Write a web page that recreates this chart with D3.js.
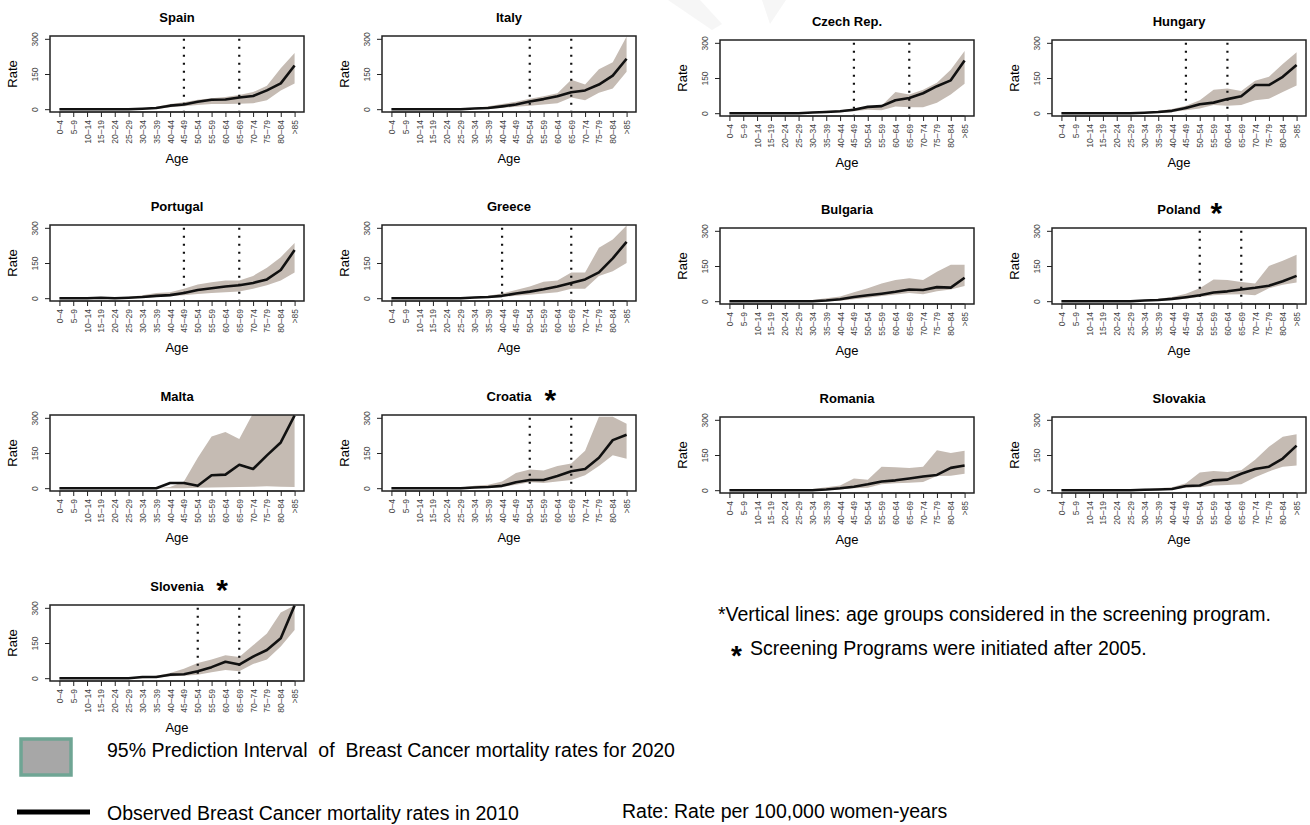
<html>
<head>
<meta charset="UTF-8">
<title>Breast cancer mortality by age</title>
<style>
body { margin: 0; background: #ffffff; }
text { font-family: "Liberation Sans", Arial, Helvetica, sans-serif; }
</style>
</head>
<body>
<div id="vis"></div>
<script src="https://d3js.org/d3.v7.min.js"></script>
<script>
// age groups (x axis)
var ages = ["0–4","5–9","10–14","15–19","20–24","25–29","30–34","35–39","40–44","45–49",
            "50–54","55–59","60–64","65–69","70–74","75–79","80–84",">85"];
var rateTicks = [0, 150, 300];

// observed 2010 rates and 95% prediction interval for 2020
var spainObs  = [0,0,0,0,0,0,2,5,15,20,32,40,41,50,56,80,110,186];
var spainLo   = [0,0,0,0,0,0,0,1,8,12,18,22,22,23,25,38,80,110];
var spainHi   = [0,0,0,0,0,1,3,10,22,30,40,47,52,60,73,100,175,240];

var italyObs  = [0,0,0,0,0,0,3,5,12,20,33,43,55,72,80,105,143,215];
var italyLo   = [0,0,0,0,0,0,1,2,5,10,15,20,25,50,38,70,88,160];
var italyHi   = [0,0,0,0,0,2,5,12,22,32,45,55,68,125,105,170,200,310];

var czechObs  = [0,0,0,0,0,0,3,5,8,15,27,30,55,65,85,115,140,225];
var czechLo   = [0,0,0,0,0,0,1,2,4,8,15,12,28,25,25,45,80,125];
var czechHi   = [0,0,0,0,0,2,6,10,12,20,30,32,90,80,100,130,185,265];

var hungaryObs = [0,0,0,0,0,0,2,5,10,22,38,45,60,72,120,120,155,205];
var hungaryLo  = [0,0,0,0,0,0,0,2,5,12,20,35,32,35,55,62,90,118];
var hungaryHi  = [0,0,0,0,0,2,5,10,18,32,55,100,105,95,138,155,210,260];

var portugalObs = [0,0,0,2,0,2,5,10,13,22,35,42,50,55,65,80,120,205];
var portugalLo  = [0,0,0,0,0,0,2,5,8,12,18,22,25,28,40,55,75,110];
var portugalHi  = [0,0,0,3,2,5,12,22,25,40,58,68,75,75,95,130,175,235];

var greeceObs = [0,0,0,0,0,0,3,5,10,20,28,38,50,65,80,110,170,240];
var greeceLo  = [0,0,0,0,0,0,0,2,5,10,15,20,25,40,40,95,115,150];
var greeceHi  = [0,0,0,0,0,2,5,10,20,35,50,70,75,110,110,215,250,310];

var bulgariaObs = [0,0,0,0,0,0,0,3,8,18,25,32,40,50,48,60,58,100];
var bulgariaLo  = [0,0,0,0,0,0,0,0,2,8,15,22,28,35,30,42,50,65];
var bulgariaHi  = [0,0,0,0,0,2,5,12,20,38,55,75,90,98,90,125,155,155];

var polandObs = [0,0,0,0,0,0,3,5,10,17,25,37,42,50,57,66,85,108];
var polandLo  = [0,0,0,0,0,0,1,2,5,10,18,25,28,30,25,55,70,80];
var polandHi  = [0,0,0,0,0,2,5,10,18,32,55,92,90,82,75,150,172,198];

var maltaObs = [0,0,0,0,0,0,0,0,22,22,10,55,58,100,82,140,195,310];
var maltaLo  = [0,0,0,0,0,0,0,0,0,0,2,3,4,5,6,8,6,5];
var maltaHi  = [0,0,0,0,0,0,0,0,5,28,130,220,240,210,320,320,320,320];

var croatiaObs = [0,0,0,0,0,0,3,5,10,25,35,35,52,72,82,130,205,228];
var croatiaLo  = [0,0,0,0,0,0,0,2,5,15,25,22,28,35,55,95,140,125];
var croatiaHi  = [0,0,0,0,0,3,10,15,28,65,80,75,95,105,160,305,305,275];

var romaniaObs = [0,0,0,0,0,0,0,3,8,15,25,37,42,50,58,65,95,105];
var romaniaLo  = [0,0,0,0,0,0,0,1,3,8,10,25,30,32,35,60,62,70];
var romaniaHi  = [0,0,0,0,0,2,5,12,20,50,45,100,98,95,100,170,158,168];

var slovakiaObs = [0,0,0,0,0,0,2,3,5,18,20,42,45,70,90,100,135,190];
var slovakiaLo  = [0,0,0,0,0,0,0,2,3,10,12,20,22,25,55,80,100,105];
var slovakiaHi  = [0,0,0,0,0,1,3,8,12,30,75,82,78,85,130,185,228,238];

var sloveniaObs = [0,0,0,0,0,0,5,5,15,17,30,47,70,58,92,120,170,310];
var sloveniaLo  = [0,0,0,0,0,0,0,2,8,10,15,25,35,30,60,80,135,205];
var sloveniaHi  = [0,0,0,0,0,2,5,10,22,40,65,80,98,90,140,190,280,310];

// screening age groups (index into ages) and countries with a starred title
var screening = {
  "Spain": [9,13], "Italy": [10,13], "Czech Rep.": [9,13], "Hungary": [9,12],
  "Portugal": [9,13], "Greece": [8,13], "Poland": [10,13], "Croatia": [10,13], "Slovenia": [10,13]
};
var starred = ["Poland", "Croatia", "Slovenia"];

var panels = [
  {name:"Spain",      obs:spainObs,    lo:spainLo,    hi:spainHi,    x:50,   y:36},
  {name:"Italy",      obs:italyObs,    lo:italyLo,    hi:italyHi,    x:382,  y:36},
  {name:"Czech Rep.", obs:czechObs,    lo:czechLo,    hi:czechHi,    x:720,  y:40},
  {name:"Hungary",    obs:hungaryObs,  lo:hungaryLo,  hi:hungaryHi,  x:1052, y:40},
  {name:"Portugal",   obs:portugalObs, lo:portugalLo, hi:portugalHi, x:50,   y:225},
  {name:"Greece",     obs:greeceObs,   lo:greeceLo,   hi:greeceHi,   x:382,  y:225},
  {name:"Bulgaria",   obs:bulgariaObs, lo:bulgariaLo, hi:bulgariaHi, x:720,  y:228},
  {name:"Poland",     obs:polandObs,   lo:polandLo,   hi:polandHi,   x:1052, y:228},
  {name:"Malta",      obs:maltaObs,    lo:maltaLo,    hi:maltaHi,    x:50,   y:415},
  {name:"Croatia",    obs:croatiaObs,  lo:croatiaLo,  hi:croatiaHi,  x:382,  y:415},
  {name:"Romania",    obs:romaniaObs,  lo:romaniaLo,  hi:romaniaHi,  x:720,  y:417},
  {name:"Slovakia",   obs:slovakiaObs, lo:slovakiaLo, hi:slovakiaHi, x:1052, y:417},
  {name:"Slovenia",   obs:sloveniaObs, lo:sloveniaLo, hi:sloveniaHi, x:50,   y:605}
];

var W = 1310, H = 825, pw = 254, ph = 76;
var bandColor = "#c5bbb3";

var svg = d3.select("#vis").append("svg")
  .attr("width", W).attr("height", H);

// faint watermark shapes at the top
svg.append("polygon").attr("points", "668,0 700,0 722,24 712,30").attr("fill", "#f6f6f6");
svg.append("polygon").attr("points", "762,0 786,0 770,24").attr("fill", "#f6f6f6");

panels.forEach(function(p) {
  var g = svg.append("g").attr("transform", "translate(" + p.x + "," + p.y + ")");
  var n = ages.length;
  // R style 4% padding on both axes
  var x = d3.scaleLinear().domain([-0.04 * (n - 1), (n - 1) * 1.04]).range([0, pw]);
  var y = d3.scaleLinear().domain([-12, 312]).range([ph, 0]);

  var clipId = "clip" + p.name.replace(/[^a-z]/gi, "");
  g.append("clipPath").attr("id", clipId)
    .append("rect").attr("width", pw).attr("height", ph);

  var area = d3.area()
    .x(function(d, i) { return x(i); })
    .y0(function(d, i) { return y(p.lo[i]); })
    .y1(function(d, i) { return y(p.hi[i]); });
  g.append("path").datum(p.obs)
    .attr("clip-path", "url(#" + clipId + ")")
    .attr("d", area).attr("fill", bandColor);

  var line = d3.line()
    .x(function(d, i) { return x(i); })
    .y(function(d) { return y(d); });
  g.append("path").datum(p.obs)
    .attr("clip-path", "url(#" + clipId + ")")
    .attr("d", line).attr("fill", "none")
    .attr("stroke", "#111").attr("stroke-width", 2.6)
    .attr("stroke-linejoin", "round");

  // screening age group lines
  (screening[p.name] || []).forEach(function(i) {
    g.append("line")
      .attr("x1", x(i)).attr("x2", x(i))
      .attr("y1", y(300)).attr("y2", y(-8))
      .attr("stroke", "#111").attr("stroke-width", 2.2)
      .attr("stroke-dasharray", "2,6");
  });

  g.append("rect").attr("width", pw).attr("height", ph)
    .attr("fill", "none").attr("stroke", "#222").attr("stroke-width", 1.5);

  // y axis
  var ya = g.append("g").call(d3.axisLeft(y).tickValues(rateTicks).tickSize(5).tickPadding(4));
  ya.select(".domain").remove();
  ya.selectAll("line").attr("stroke", "#222");
  ya.selectAll("text")
    .attr("transform", "rotate(-90)")
    .attr("x", 0).attr("y", -12).attr("dy", 0)
    .attr("text-anchor", "middle")
    .style("font-size", "8.5px").attr("fill", "#444");

  // x axis
  var xa = g.append("g").attr("transform", "translate(0," + ph + ")")
    .call(d3.axisBottom(x).tickValues(d3.range(n))
      .tickFormat(function(i) { return ages[i]; }).tickSize(5));
  xa.select(".domain").attr("d", "M" + x(0) + ",0H" + x(n - 1)).attr("stroke", "#222");
  xa.selectAll("line").attr("stroke", "#222");
  xa.selectAll("text")
    .attr("transform", "rotate(-90)")
    .attr("x", -8).attr("y", 0).attr("dy", "0.35em")
    .attr("text-anchor", "end")
    .style("font-size", "8.5px").attr("fill", "#444");

  g.append("text").attr("x", pw / 2).attr("y", -14)
    .attr("text-anchor", "middle")
    .style("font-size", "13px").style("font-weight", "bold")
    .text(p.name);
  if (starred.indexOf(p.name) >= 0) {
    var tw = p.name.length * 3.9;
    g.append("text").attr("x", pw / 2 + tw + 14).attr("y", -5)
      .attr("text-anchor", "middle")
      .style("font-size", "30px").style("font-weight", "bold")
      .text("*");
  }
  g.append("text")
    .attr("transform", "translate(-33," + (ph / 2) + ") rotate(-90)")
    .attr("text-anchor", "middle")
    .style("font-size", "13px").text("Rate");
  g.append("text").attr("x", pw / 2).attr("y", ph + 51)
    .attr("text-anchor", "middle")
    .style("font-size", "13px").text("Age");
});

// notes
svg.append("text").attr("x", 718).attr("y", 621)
  .style("font-size", "19.5px")
  .text("*Vertical lines: age groups considered in the screening program.");
svg.append("text").attr("x", 731).attr("y", 665)
  .style("font-size", "28px").style("font-weight", "bold").text("*");
svg.append("text").attr("x", 750).attr("y", 655)
  .style("font-size", "19.5px")
  .text("Screening Programs were initiated after 2005.");

// legend
svg.append("rect").attr("x", 21).attr("y", 739).attr("width", 50).attr("height", 36)
  .attr("fill", "#a7a7a7").attr("stroke", "#6fa594").attr("stroke-width", 3.5);
svg.append("text").attr("x", 107).attr("y", 757)
  .style("font-size", "19.5px").style("white-space", "pre")
  .text("95% Prediction Interval  of  Breast Cancer mortality rates for 2020");
svg.append("line").attr("x1", 17).attr("x2", 90).attr("y1", 812).attr("y2", 812)
  .attr("stroke", "#000").attr("stroke-width", 5);
svg.append("text").attr("x", 107).attr("y", 820)
  .style("font-size", "19.5px")
  .text("Observed Breast Cancer mortality rates in 2010");
svg.append("text").attr("x", 622).attr("y", 818)
  .style("font-size", "19.5px")
  .text("Rate: Rate per 100,000 women-years");
</script>
</body>
</html>
